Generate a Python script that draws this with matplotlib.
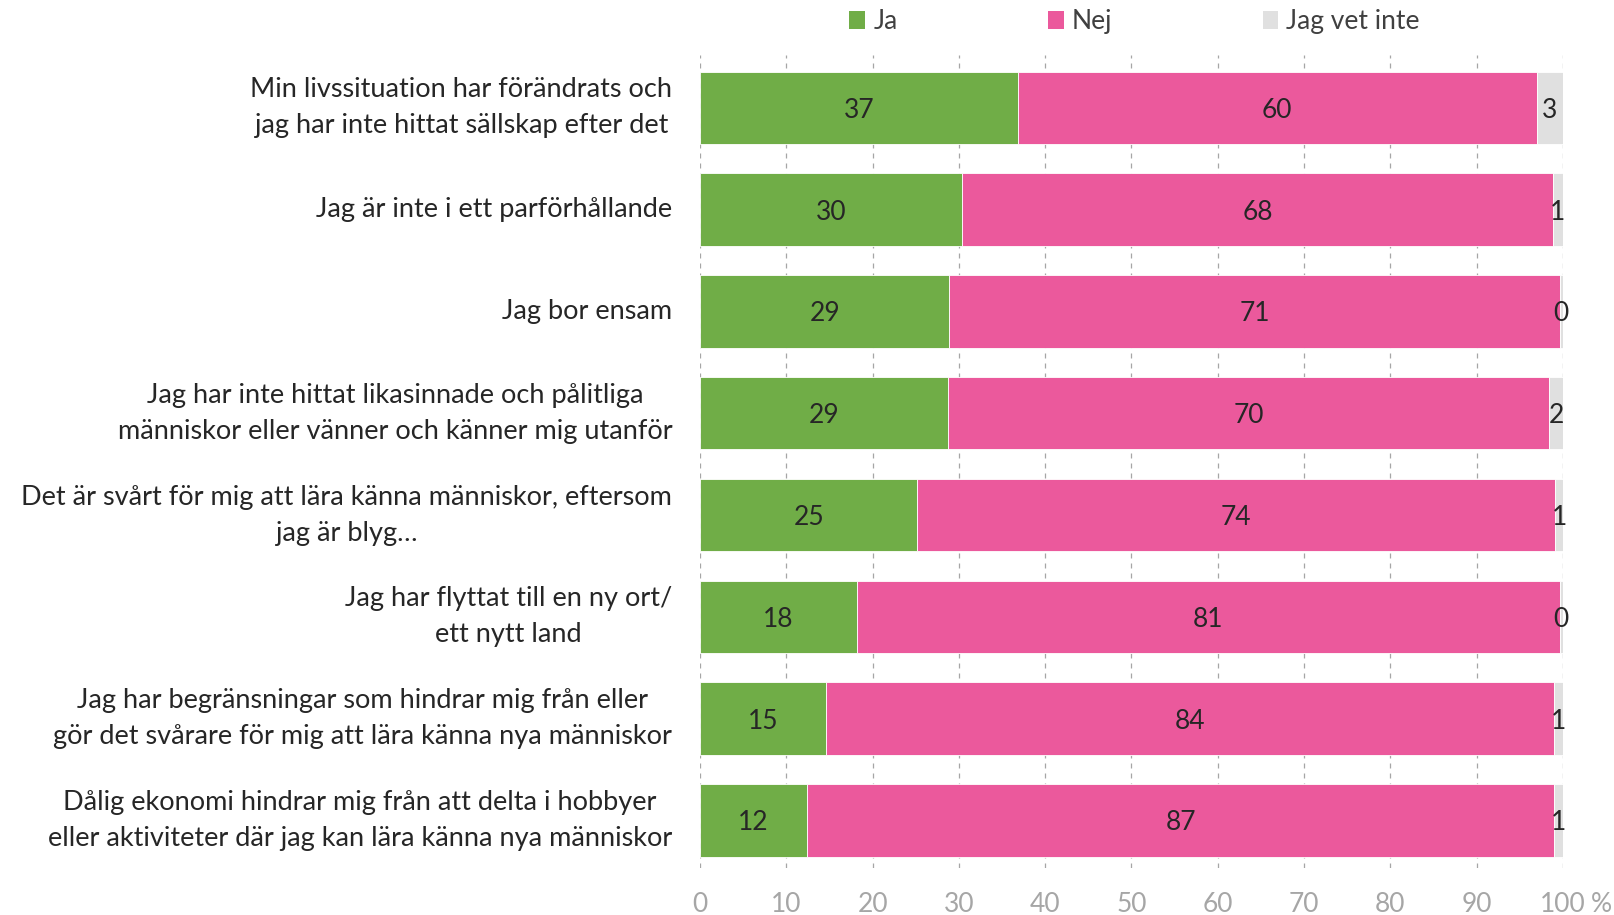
import numpy as np
import matplotlib.pyplot as plt
from matplotlib.patches import Patch

plt.rcParams['font.family'] = ['Lato', 'DejaVu Sans']

categories = [
    "Min livssituation har förändrats och\njag har inte hittat sällskap efter det",
    "Jag är inte i ett parförhållande",
    "Jag bor ensam",
    "Jag har inte hittat likasinnade och pålitliga\nmänniskor eller vänner och känner mig utanför",
    "Det är svårt för mig att lära känna människor, eftersom\njag är blyg…",
    "Jag har flyttat till en ny ort/\nett nytt land",
    "Jag har begränsningar som hindrar mig från eller\ngör det svårare för mig att lära känna nya människor",
    "Dålig ekonomi hindrar mig från att delta i hobbyer\neller aktiviteter där jag kan lära känna nya människor",
]
ja = [36.8, 30.4, 28.9, 28.7, 25.2, 18.2, 14.6, 12.4]
nej = [60.2, 68.4, 70.7, 69.7, 73.9, 81.4, 84.4, 86.6]
vet_inte = [3.0, 1.2, 0.4, 1.6, 0.9, 0.4, 1.0, 1.0]
series_names = ["Ja", "Nej", "Jag vet inte"]
xticks = [0, 10, 20, 30, 40, 50, 60, 70, 80, 90, 100]

colors = ["#70AD47", "#EB599C", "#E0E0E0"]
text_col = "#262626"

fig = plt.figure(figsize=(16.14, 9.15), dpi=100)
ax = fig.add_axes([0.4337, 0.0514, 0.5347, 0.8885])

y = np.arange(len(categories))
left = np.zeros(len(categories))
for vals, col, name in zip([ja, nej, vet_inte], colors, series_names):
    vals = np.array(vals)
    ax.barh(y, vals, left=left, height=0.712, color=col,
            edgecolor="white", linewidth=0.6, label=name, zorder=2)
    for xi, yi, v in zip(left + vals / 2, y, vals):
        ax.text(xi, yi, f"{v:.0f}", ha="center", va="center_baseline",
                fontsize=19, color=text_col, zorder=3)
    left = left + vals

ax.set_xlim(0, 100)
ax.set_ylim(7.467, -0.519)
ax.set_yticks(y)
ax.set_yticklabels(categories, fontsize=19.5, color=text_col,
                   multialignment="center", linespacing=1.55)
for lbl in ax.get_yticklabels():
    lbl.set_va("center")
ax.set_xticks(xticks)
ax.set_xticklabels([str(t) for t in xticks], fontsize=19, color="#A6A6A6")
ax.tick_params(axis="y", length=0, pad=20)
ax.tick_params(axis="x", length=0, pad=17)
ax.annotate("%", xy=(100, 0), xycoords=ax.get_xaxis_transform(),
            xytext=(20, -17), textcoords="offset points",
            ha="left", va="top", fontsize=19, color="#A6A6A6")

for s in ax.spines.values():
    s.set_visible(False)
ax.grid(axis="x", color="#A6A6A6", linestyle=(0, (4, 4)), linewidth=0.9, zorder=0)
ax.set_axisbelow(True)

handles = [Patch(facecolor=c, label=n) for c, n in zip(colors, series_names)]
fig.legend(handles=handles, loc="center", bbox_to_anchor=(0.703, 0.976), ncol=3,
           frameon=False, fontsize=19, handlelength=0.6, handleheight=0.7,
           handletextpad=0.3, columnspacing=5.7, labelcolor="#404040")

fig.savefig("out.png", dpi=100)
